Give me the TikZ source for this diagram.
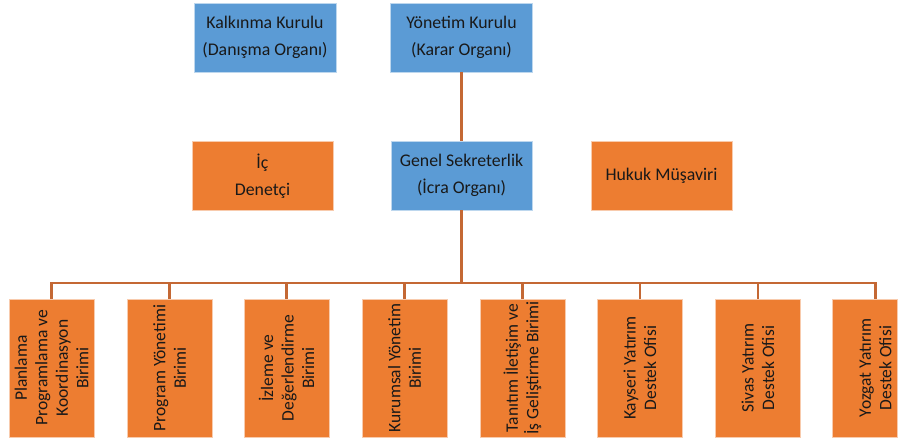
\documentclass[tikz,border=0pt]{standalone}
\usepackage{fontspec}
\setmainfont{Carlito}
\usepackage{graphicx}
\definecolor{myblue}{RGB}{91,155,213}
\definecolor{myorange}{RGB}{237,125,49}
\definecolor{linecol}{RGB}{196,104,52}
\definecolor{txt}{RGB}{25,25,25}
\newcommand{\unittext}[1]{\rotatebox{90}{\parbox{136pt}{\centering\fontsize{17.5}{20.5}\selectfont #1}}}
\begin{document}
\begin{tikzpicture}[x=1pt,y=-1pt,
  box/.style={draw=white!60!myblue, line width=0.6pt, minimum width=142pt, minimum height=69pt, inner sep=0pt, align=center, text=txt, font=\fontsize{17.8}{26.7}\selectfont},
  bluebox/.style={box, fill=myblue},
  orangebox/.style={box, fill=myorange, draw=white!60!myorange},
  unitbox/.style={fill=myorange, draw=white!60!myorange, line width=0.6pt, minimum width=85pt, minimum height=138pt, inner sep=0pt, text=txt},
  conn/.style={draw=linecol, line width=2.2pt}]
\useasboundingbox (0,0) rectangle (908,441);
\fill[white] (0,0) rectangle (908,441);
% top row
\node[bluebox] (kk) at (265,37.5) {Kalkınma Kurulu\\(Danışma Organı)};
\node[bluebox] (yk) at (461.5,37.5) {Yönetim Kurulu\\(Karar Organı)};
% second row
\node[orangebox, minimum width=141pt] (id) at (262.5,176) {İç\\Denetçi};
\node[bluebox, minimum width=141pt] (gs) at (461.5,175.5) {Genel Sekreterlik\\(İcra Organı)};
\node[orangebox, minimum width=141pt] (hm) at (661.5,176) {Hukuk Müşaviri};
% units
\node[unitbox] (b1) at (51.5,368) {\unittext{Planlama\\Programlama ve\\Koordinasyon\\Birimi}};
\node[unitbox] (b2) at (169.5,368) {\unittext{Program Yönetimi\\Birimi}};
\node[unitbox] (b3) at (286.5,368) {\unittext{İzleme ve\\Değerlendirme\\Birimi}};
\node[unitbox] (b4) at (404.5,368) {\unittext{Kurumsal Yönetim\\Birimi}};
\node[unitbox] (b5) at (522.5,368) {\unittext{Tanıtım İletişim ve\\\mbox{İş Geliştirme Birimi}}};
\node[unitbox] (b6) at (640,368) {\unittext{Kayseri Yatırım\\Destek Ofisi}};
\node[unitbox] (b7) at (758,368) {\unittext{Sivas Yatırım\\Destek Ofisi}};
\node[unitbox, minimum width=65pt] (b8) at (864.5,368) {};
\node[text=txt, inner sep=0pt] (t8) at (875.5,368) {\unittext{Yozgat Yatırım\\Destek Ofisi}};
% connectors
\coordinate (bus) at (461.5,283);
\draw[conn] (yk.south) -- (gs.north);
\draw[conn] (gs.south) -- (bus);
\foreach \i in {1,...,7} {\draw[conn] (b\i.north) |- (bus);}
\draw[conn] (t8.center |- b8.north) |- (bus);
\end{tikzpicture}
\end{document}
